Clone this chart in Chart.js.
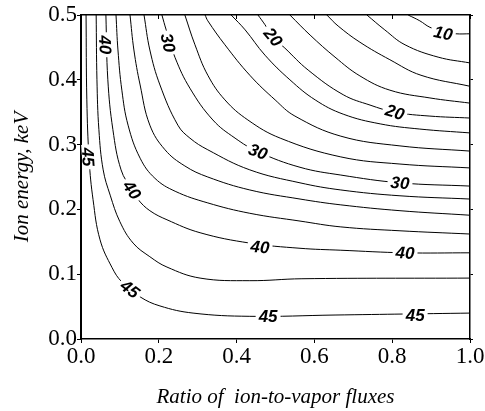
<!DOCTYPE html>
<html>
<head>
<meta charset="utf-8">
<script src="https://cdn.jsdelivr.net/npm/chart.js@4.4.0/dist/chart.umd.min.js"></script>
<style>
  html, body { margin:0; padding:0; background:#fff; }
</style>
</head>
<body>
<canvas id="contourChart" width="485" height="411"></canvas>
<script>
// contour lines, [ratio, energy] pairs
const c45 = [[0.013,0.500],[0.015,0.369],[0.021,0.276],[0.031,0.215],[0.049,0.153],[0.080,0.110],[0.105,0.088],[0.152,0.065],[0.203,0.051],[0.288,0.040],[0.434,0.035],[0.653,0.037],[1.0,0.040]];
const c42 = [[0.039,0.500],[0.041,0.400],[0.046,0.323],[0.057,0.261],[0.075,0.222],[0.100,0.181],[0.134,0.148],[0.177,0.127],[0.221,0.111],[0.306,0.094],[0.434,0.090],[0.568,0.093],[1.0,0.094]];
const c40 = [[0.064,0.500],[0.069,0.400],[0.082,0.323],[0.103,0.261],[0.131,0.230],[0.147,0.215],[0.177,0.198],[0.221,0.184],[0.306,0.164],[0.434,0.148],[0.563,0.140],[0.668,0.137],[0.833,0.133],[1.0,0.133]];
const c37 = [[0.090,0.500],[0.095,0.446],[0.105,0.384],[0.121,0.330],[0.152,0.279],[0.190,0.248],[0.242,0.228],[0.326,0.210],[0.434,0.194],[0.563,0.182],[0.668,0.173],[0.820,0.167],[1.0,0.162]];
const c35 = [[0.126,0.500],[0.136,0.446],[0.152,0.392],[0.177,0.330],[0.216,0.292],[0.267,0.267],[0.326,0.250],[0.434,0.230],[0.563,0.216],[0.668,0.207],[0.820,0.198],[1.0,0.191]];
const c32 = [[0.162,0.500],[0.177,0.446],[0.203,0.392],[0.249,0.330],[0.280,0.310],[0.326,0.292],[0.434,0.261],[0.563,0.241],[0.668,0.230],[0.820,0.221],[1.0,0.216]];
const c30 = [[0.208,0.500],[0.219,0.477],[0.242,0.434],[0.280,0.387],[0.339,0.338],[0.396,0.310],[0.455,0.289],[0.563,0.265],[0.668,0.253],[0.820,0.241],[1.0,0.236]];
const c27 = [[0.267,0.500],[0.293,0.454],[0.326,0.407],[0.370,0.369],[0.429,0.338],[0.512,0.310],[0.668,0.281],[0.820,0.270],[1.0,0.264]];
const c25 = [[0.319,0.500],[0.326,0.491],[0.370,0.454],[0.434,0.407],[0.499,0.369],[0.550,0.344],[0.668,0.313],[0.820,0.298],[1.0,0.290]];
const c22 = [[0.386,0.500],[0.422,0.477],[0.473,0.438],[0.537,0.400],[0.602,0.369],[0.674,0.347],[0.769,0.332],[0.871,0.324],[1.0,0.318]];
const c20 = [[0.455,0.500],[0.473,0.485],[0.494,0.466],[0.524,0.449],[0.584,0.415],[0.674,0.377],[0.743,0.361],[0.807,0.350],[0.897,0.344],[1.0,0.341]];
const c17 = [[0.537,0.500],[0.589,0.469],[0.653,0.435],[0.717,0.406],[0.794,0.384],[0.897,0.372],[1.0,0.364]];
const c15 = [[0.632,0.500],[0.661,0.483],[0.717,0.458],[0.794,0.431],[0.874,0.407],[1.0,0.390]];
const c12 = [[0.735,0.500],[0.781,0.477],[0.833,0.454],[0.918,0.435],[1.0,0.426]];
const c10 = [[0.841,0.500],[0.871,0.491],[0.897,0.481],[0.931,0.474],[0.964,0.471],[1.0,0.471]];

const levels = [45, 42.5, 40, 37.5, 35, 32.5, 30, 27.5, 25, 22.5, 20, 17.5, 15, 12.5, 10];
const contours = [c45, c42, c40, c37, c35, c32, c30, c27, c25, c22, c20, c17, c15, c12, c10];

// in-line level labels
const labelText  = ['10', '20', '20', '30', '30', '30', '40', '40', '40', '40', '45', '45', '45', '45'];
const labelX     = [0.931, 0.494, 0.807, 0.224, 0.455, 0.820, 0.062, 0.131, 0.460, 0.833, 0.018, 0.126, 0.481, 0.859];
const labelY     = [0.472, 0.466, 0.350, 0.457, 0.289, 0.241, 0.454, 0.230, 0.142, 0.133, 0.281, 0.077, 0.035, 0.037];
const labelAngle = [12, 50, 17, 78, 20, 5, 88, 55, 5, 3, 86, 38, 0, 0];

const xTicks = [0, 0.2, 0.4, 0.6, 0.8, 1.0];
const yTicks = [0, 0.1, 0.2, 0.3, 0.4, 0.5];

const serif = '"Liberation Serif", "Times New Roman", serif';

const contourLabels = {
  id: 'contourLabels',
  afterDatasetsDraw(chart) {
    const ctx = chart.ctx;
    const xs = chart.scales.x, ys = chart.scales.y;
    ctx.save();
    ctx.font = 'italic bold 17px "Liberation Sans", Arial, sans-serif';
    ctx.textAlign = 'center';
    ctx.textBaseline = 'middle';
    for (let i = 0; i < labelText.length; i++) {
      const px = xs.getPixelForValue(labelX[i]);
      const py = ys.getPixelForValue(labelY[i]);
      const w = ctx.measureText(labelText[i]).width;
      ctx.save();
      ctx.translate(px, py);
      ctx.rotate(labelAngle[i] * Math.PI / 180);
      ctx.fillStyle = '#fff';
      ctx.fillRect(-w / 2 - 3, -6, w + 6, 12);
      ctx.fillStyle = '#000';
      ctx.fillText(labelText[i], 0, 1);
      ctx.restore();
    }
    ctx.restore();
  }
};

const ctx = document.getElementById('contourChart');
new Chart(ctx, {
  type: 'line',
  data: {
    datasets: contours.map((c, i) => ({
      label: String(levels[i]),
      data: c.map(p => ({ x: p[0], y: p[1] })),
      borderColor: '#000',
      borderWidth: 1,
      pointRadius: 0,
      tension: 0.4,
      fill: false
    }))
  },
  options: {
    responsive: false,
    animation: false,
    devicePixelRatio: 1,
    layout: { padding: 0 },
    plugins: {
      legend: { display: false },
      tooltip: { enabled: false }
    },
    scales: {
      x: {
        type: 'linear',
        position: 'bottom',
        min: 0, max: 1,
        afterBuildTicks: s => { s.ticks = xTicks.map(v => ({ value: v })); },
        afterFit: s => { s.height = 72; },
        ticks: {
          color: '#000',
          padding: 0,
          font: { family: serif, size: 23 },
          callback: v => v.toFixed(1)
        },
        grid: { drawOnChartArea: false, tickLength: 4, color: '#000' },
        border: { color: '#000', width: 1.5 },
        title: {
          display: true,
          text: 'Ratio of  ion-to-vapor fluxes',
          color: '#000',
          font: { family: serif, size: 21, style: 'italic' },
          padding: { top: 0, bottom: 1 }
        }
      },
      y: {
        type: 'linear',
        position: 'left',
        min: 0, max: 0.5,
        afterBuildTicks: s => { s.ticks = yTicks.map(v => ({ value: v })); },
        afterFit: s => { s.width = 81; },
        ticks: {
          color: '#000',
          padding: 0,
          font: { family: serif, size: 23 },
          callback: v => v.toFixed(1)
        },
        grid: { drawOnChartArea: false, tickLength: 4, color: '#000' },
        border: { color: '#000', width: 2 },
        title: {
          display: true,
          text: 'Ion energy, keV',
          color: '#000',
          font: { family: serif, size: 21, style: 'italic' },
          padding: { top: 10, bottom: 0 }
        }
      },
      x2: {
        type: 'linear',
        position: 'top',
        min: 0, max: 1,
        afterBuildTicks: s => { s.ticks = xTicks.map(v => ({ value: v })); },
        afterFit: s => { s.height = 15; },
        ticks: { display: false },
        grid: { drawOnChartArea: false, tickLength: -4, color: '#000' },
        border: { color: '#000', width: 1.5 }
      },
      y2: {
        type: 'linear',
        position: 'right',
        min: 0, max: 0.5,
        afterBuildTicks: s => { s.ticks = yTicks.map(v => ({ value: v })); },
        afterFit: s => { s.width = 15; },
        ticks: { display: false },
        grid: { drawOnChartArea: false, tickLength: 3, color: '#000' },
        border: { color: '#000', width: 1.5 }
      }
    }
  },
  plugins: [contourLabels]
});
</script>
</body>
</html>
